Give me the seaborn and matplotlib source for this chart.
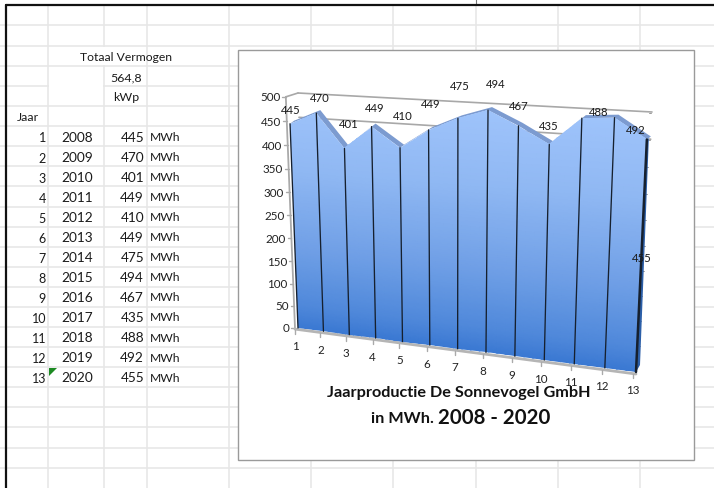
import numpy as np
import pandas as pd
import seaborn as sns
import matplotlib
matplotlib.use("Agg")
import matplotlib.pyplot as plt
from matplotlib.colors import LinearSegmentedColormap
from matplotlib.patches import Polygon, Rectangle

# ---------- data ----------
index_nr = list(range(1, 14))
years = [2008, 2009, 2010, 2011, 2012, 2013, 2014, 2015, 2016, 2017, 2018, 2019, 2020]
production = [445, 470, 401, 449, 410, 449, 475, 494, 467, 435, 488, 492, 455]
y_ticks = [0, 50, 100, 150, 200, 250, 300, 350, 400, 450, 500]
capacity = "564,8"
unit = "MWh"

# ---------- style / layout ----------
sns.set_theme(style="white")
plt.rcParams["font.family"] = ["Lato", "DejaVu Sans"]
W, H = 714, 489
fig = plt.figure(figsize=(W / 100, H / 100), dpi=100)
ax = fig.add_axes([0, 0, 1, 1])
ax.set_xlim(0, W)
ax.set_ylim(H, 0)
ax.axis("off")

# spreadsheet grid
GRID = "#e6e6e6"
rows = [26, 47, 67, 87, 107, 127, 147, 167, 187, 208, 228, 248, 268, 288, 308, 328,
        348, 368, 388, 408, 428, 449, 469]
cols = [48, 104, 147, 229, 311, 393, 476, 558, 640]
for r in rows:
    ax.plot([0, W], [r, r], color=GRID, lw=1.1, zorder=1)
for c in cols:
    ax.plot([c, c], [0, H], color=GRID, lw=1.1, zorder=1)
ax.add_patch(Rectangle((49, 48), 97, 18, fc="white", ec="none", zorder=1.1))
ax.add_patch(Rectangle((49, 68), 54, 38, fc="white", ec="none", zorder=1.1))
ax.add_patch(Rectangle((0, 0), W, 5, fc="white", ec="none", zorder=1.2))
ax.plot([476, 476], [0, 6], color="#777777", lw=0.8, zorder=1.3)
ax.plot([6, W], [6, 6], color="#111111", lw=1.6, zorder=2)
ax.plot([6, 6], [6, H], color="#111111", lw=1.6, zorder=2)

# table text
TXT = "#1a1a1a"
ROW0 = 137.5
ROWH = 20.05
ax.text(126, 57.5, "Totaal Vermogen", ha="center", va="center", fontsize=8.7, color=TXT, zorder=3)
ax.text(126, 77.5, capacity, ha="center", va="center", fontsize=8.9, color=TXT, zorder=3)
ax.text(126, 97.5, "kWp", ha="center", va="center", fontsize=8.9, color=TXT, zorder=3)
ax.text(28, 117.5, "Jaar", ha="center", va="center", fontsize=8.9, color=TXT, zorder=3)
for k, (n, yr, val) in enumerate(zip(index_nr, years, production)):
    yy = ROW0 + k * ROWH
    ax.text(46, yy + 1, str(n), ha="right", va="center", fontsize=9, color=TXT, zorder=3)
    ax.text(77, yy, str(yr), ha="center", va="center", fontsize=9.8, color=TXT, zorder=3)
    ax.text(144, yy, str(val), ha="right", va="center", fontsize=9.8, color=TXT, zorder=3)
    ax.text(150, yy, unit, ha="left", va="center", fontsize=8.7, color=TXT, zorder=3)
ax.add_patch(Polygon([(49, 369), (57, 369), (49, 377)], fc="#1c8a22", ec="none", zorder=3))

# chart box
ax.add_patch(Rectangle((238, 51), 456, 410, fc="white", ec="#9a9a9a", lw=1.0, zorder=4))

# perspective: (index, value) -> pixel, a homography fixed by the plot corners
src = [(1, 0), (13, 0), (1, 500), (13, 500)]
dst = [(298, 329), (636, 373), (289, 98), (648, 116)]
A, b = [], []
for (u, v), (x, y) in zip(src, dst):
    A.append([u, v, 1, 0, 0, 0, -u * x, -v * x]); b.append(x)
    A.append([0, 0, 0, u, v, 1, -u * y, -v * y]); b.append(y)
h = np.linalg.solve(np.array(A, float), np.array(b, float))


def project(u, v):
    u = np.asarray(u, float)
    v = np.asarray(v, float)
    w = h[6] * u + h[7] * v + 1
    return (h[0] * u + h[1] * v + h[2]) / w, (h[3] * u + h[4] * v + h[5]) / w


i = np.array(index_nr, float)
val = np.array(production, float)
base_x, base_y = project(i, np.zeros_like(i))
top_x, top_y = project(i, val)
Z = 5

# back wall gridlines
frac = (i - 1) / 12
back_dx, back_dy = 9 - 5 * frac, -4 + 1 * frac
bx, by = project(i, np.full_like(i, 500.0))
sns.lineplot(x=bx + back_dx, y=by + back_dy, color="#a8a8a8", lw=1.2, ax=ax, zorder=Z, sort=False, estimator=None)
bx2, by2 = project(i, np.full_like(i, 450.0))
sns.lineplot(x=bx2 + back_dx, y=by2 + back_dy, color="#a8a8a8", lw=1.2, ax=ax, zorder=Z, sort=False, estimator=None)

# left axis
ax_u = 0.88
ticks = np.array(y_ticks, float)
tx, ty = project(np.full_like(ticks, ax_u), ticks)
ax.plot(tx, ty, color="#aaaaaa", lw=1.3, zorder=Z)
ax.plot([tx[-1], bx[0] + back_dx[0]], [ty[-1], by[0] + back_dy[0]], color="#a8a8a8", lw=1.2, zorder=Z)
for xx, yy, t in zip(tx, ty, y_ticks):
    ax.plot([xx - 3.5, xx], [yy, yy], color="#aaaaaa", lw=1, zorder=Z)
    ax.text(xx - 5.5, yy, str(t), ha="right", va="center", fontsize=8.4, color="#222222", zorder=Z + 3)

# bottom axis
ax_x, ax_y = project(np.array([0.88, 13.0]), np.array([0.0, 0.0]))
ax.plot(ax_x, ax_y + [1.5, 2], color="#b5b5b5", lw=2, zorder=Z)
for n, xx, yy in zip(index_nr, base_x, base_y):
    ax.plot([xx - 3, xx - 3], [yy + 2, yy + 6], color="#aaaaaa", lw=1, zorder=Z)
    ax.text(xx - 3, yy + 18, str(n), ha="center", va="center", fontsize=8.4, color="#222222", zorder=Z + 3)

# depth band on top and dark side wall
ax.add_patch(Polygon(list(zip(top_x, top_y)) + list(zip(top_x[::-1] + 4, top_y[::-1] - 3)),
                     fc="#7c9bd0", ec="none", zorder=Z + 0.2))
ax.add_patch(Polygon([(top_x[-1], top_y[-1]), (top_x[-1] + 2, top_y[-1] - 1),
                      (base_x[-1] + 4, base_y[-1] - 7), (base_x[-1], base_y[-1])],
                     fc="#2c5fa8", ec="none", zorder=Z + 0.2))
for tick_v in y_ticks[1:]:
    sx, sy = project(13.0, tick_v)
    ax.plot([sx + 1, sx + 3], [sy - 2, sy - 2], color="#9a9a9a", lw=0.7, zorder=Z + 0.1)

# front face with vertical gradient following the plane
cmap = LinearSegmentedColormap.from_list(
    "face", [(0, "#3a78d2"), (0.1, "#4f88da"), (0.35, "#6f9fe6"), (0.7, "#90b8f3"), (1, "#9fc4fb")])
uu, vv = np.meshgrid(np.linspace(1, 13, 40), np.linspace(0, 500, 40))
mx, my = project(uu, vv)
mesh = ax.pcolormesh(mx, my, vv / 500, cmap=cmap, shading="gouraud", zorder=Z + 0.5, vmin=0, vmax=1)
face = Polygon(list(zip(top_x, top_y)) + list(zip(base_x[::-1], base_y[::-1])), fc="none", ec="none", zorder=Z + 0.5)
ax.add_patch(face)
mesh.set_clip_path(face)

# drop lines
for k in range(len(i)):
    lw = 1.8 if k == len(i) - 1 else 0.95
    ax.plot([top_x[k], base_x[k]], [top_y[k], base_y[k]], color="#16202e", lw=lw, zorder=Z + 1)

# data labels as Excel placed them
label_px = [(291, 111), (320, 98), (349, 124), (375, 108), (403, 116), (431, 105), (460, 87),
            (496, 85), (519, 106), (549, 126), (599, 112), (636, 130), (642, 258)]
for (lx, ly), v in zip(label_px, production):
    ax.text(lx, ly, str(v), ha="center", va="center", fontsize=8.2, color="#1a1a1a", zorder=Z + 3)

# title
ax.text(459, 393, "Jaarproductie De Sonnevogel GmbH", ha="center", va="center", fontsize=11.7,
        fontweight="bold", color="#111111", zorder=Z + 2)
ax.text(433.5, 419, "in MWh.", ha="right", va="center", fontsize=11.7, fontweight="bold",
        color="#111111", zorder=Z + 2)
ax.text(438.5, 418, "2008 - 2020", ha="left", va="center", fontsize=14.7, fontweight="bold",
        color="#111111", zorder=Z + 2)

ax.set_xlim(0, W)
ax.set_ylim(H, 0)
ax.set_xlabel("")
ax.set_ylabel("")
fig.savefig("out.png", dpi=100, facecolor="white")
